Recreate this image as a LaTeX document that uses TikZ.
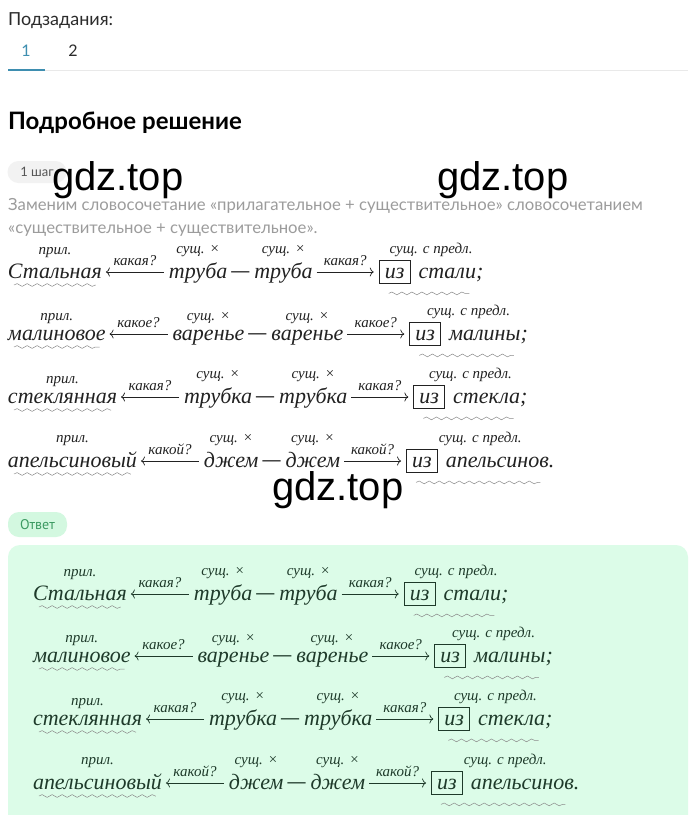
\documentclass[tikz,border=0pt]{standalone}
\usepackage{fontspec}
\setmainfont{Liberation Serif}
\newfontfamily\uifont{Lato}
\newfontfamily\markfont{Liberation Sans}
\newfontfamily\tagfont{PT Sans}
\usetikzlibrary{positioning,calc,arrows.meta,decorations.pathmorphing}

\definecolor{inkdark}{HTML}{222222}
\definecolor{inkgreen}{HTML}{1E3A2A}
\definecolor{uigray}{HTML}{9C9C9C}
\definecolor{uitext}{HTML}{2B2B2B}
\definecolor{tabblue}{HTML}{3E8EB0}
\definecolor{rulegray}{HTML}{E9E9E9}
\definecolor{pillgray}{HTML}{F2F2F2}
\definecolor{answerbg}{HTML}{DCFCE8}
\definecolor{answertag}{HTML}{D3F8E0}
\definecolor{answertext}{HTML}{3C9A62}
\definecolor{wavegray}{HTML}{8A8A8A}

\tikzstyle{word} = [inner sep=0pt, outer sep=0pt, anchor=base west, font=\fontsize{22}{22}\selectfont\itshape]
\tikzstyle{dashsign} = [word, font=\fontsize{18}{18}\selectfont\bfseries, yshift=2pt]
\tikzstyle{lbl} = [inner sep=0pt, outer sep=0pt, font=\fontsize{15}{15}\selectfont\itshape]
\tikzstyle{prepbox} = [draw, line width=0.8pt, inner sep=0pt, minimum width=31pt, text height=18pt, text depth=5pt, anchor=base west, font=\fontsize{22}{22}\selectfont\itshape]
\tikzstyle{arr} = [line width=0.7pt, -{To[length=4pt,width=9pt]}]
\tikzstyle{wave} = [draw=wavegray, line width=0.5pt, decorate, decoration={snake, amplitude=1.4pt, segment length=10pt}]
\tikzstyle{ui} = [inner sep=0pt, anchor=base west, text=uitext]
\tikzstyle{pill} = [inner sep=0pt, minimum width=59pt, rounded corners=11pt]
\tikzstyle{watermark} = [inner sep=0pt, anchor=base west, font=\markfont\fontsize{40}{40}\selectfont]

% #1 row, #2 x, #3 baseline, #4 adjective, #5 question, #6 noun, #7 noun after the preposition
\newcommand{\phraserow}[7]{
    \node[word] (#1adj) at (#2,#3) {#4};
    \node[word, base right=67pt of #1adj] (#1noun) {#6};
    \node[dashsign, base right=4pt of #1noun] (#1dash) {—};
    \node[word, base right=5pt of #1dash, yshift=-2pt] (#1nounb) {#6};
    \node[prepbox, base right=66pt of #1nounb] (#1box) {из};
    \node[word, base right=8pt of #1box] (#1prep) {#7};

    \node[lbl, above=6pt of #1adj] {прил.};
    \node[lbl, above=6pt of #1noun] {сущ.\hspace{5pt}×};
    \node[lbl, above=6pt of #1nounb] {сущ.\hspace{5pt}×};
    \coordinate (#1mid) at ($(#1box.north west)!0.5!(#1box.north west -| #1prep.east)$);
    \node[lbl, above=3pt of #1mid] {сущ. с предл.};

    \draw[arr] ([shift={(-5pt,6pt)}]#1noun.base west) -- ([shift={(4pt,6pt)}]#1adj.base east)
        node[lbl, midway, above=6pt] {#5};
    \draw[arr] ([shift={(4pt,6pt)}]#1nounb.base east) -- ([shift={(-5pt,6pt)}]#1box.base west)
        node[lbl, midway, above=6pt] {#5};

    \draw[wave] ([shift={(6pt,-7pt)}]#1adj.base west) -- ([shift={(-6pt,-7pt)}]#1adj.base east);
    \coordinate (#1wend) at (#1box.south west -| #1prep.east);
    \draw[wave] ([shift={(10pt,-10pt)}]#1box.south west) -- ([shift={(-14pt,-10pt)}]#1wend);
}

\begin{document}
\begin{tikzpicture}[x=1pt, y=-1pt]
    \useasboundingbox (0,0) rectangle (700,815);
    \fill[white] (0,0) rectangle (700,815);

    % header and tabs
    \node[ui, font=\uifont\fontsize{18}{18}\selectfont] (subtasks) at (8,25) {Подзадания:};
    \node[ui, anchor=base, text=tabblue, font=\uifont\fontsize{16}{16}\selectfont] (tabone) at (26,56) {1};
    \node[ui, anchor=base, font=\uifont\fontsize{16}{16}\selectfont] (tabtwo) at (73,56) {2};
    \draw[rulegray, line width=1pt] (8,70) -- (688,70);
    \draw[tabblue, line width=2pt] (8,70) -- (45,70);

    \node[ui, text=black, font=\uifont\bfseries\fontsize{24}{24}\selectfont] (title) at (8,129) {Подробное решение};
    \node[pill, fill=pillgray, minimum height=22pt, text=uitext!80, font=\uifont\fontsize{13}{13}\selectfont] (stepbadge) at (37,172) {1 шаг};

    \node[ui, text=uigray, font=\uifont\fontsize{16.7}{16.7}\selectfont] (intro) at (8,210) {Заменим словосочетание «прилагательное + существительное» словосочетанием};
    \node[ui, text=uigray, font=\uifont\fontsize{16.7}{16.7}\selectfont] (introb) at (8,233) {«существительное + существительное».};

    % solution
    \begin{scope}[color=inkdark]
        \phraserow{sa}{8}{278}{Стальная}{какая?}{труба}{стали;}
        \phraserow{sb}{8}{340}{малиновое}{какое?}{варенье}{малины;}
        \phraserow{sc}{8}{403}{стеклянная}{какая?}{трубка}{стекла;}
        \phraserow{sd}{8}{467}{апельсиновый}{какой?}{джем}{апельсинов.}
    \end{scope}

    % answer
    \node[pill, fill=answertag, minimum height=25pt, text=answertext, font=\tagfont\fontsize{14}{14}\selectfont] (answertag) at (37.5,524.5) {Ответ};
    \fill[answerbg, rounded corners=12pt] (8,545) rectangle (688,840);
    \begin{scope}[color=inkgreen]
        \phraserow{oa}{33}{600}{Стальная}{какая?}{труба}{стали;}
        \phraserow{ob}{33}{662}{малиновое}{какое?}{варенье}{малины;}
        \phraserow{oc}{33}{725}{стеклянная}{какая?}{трубка}{стекла;}
        \phraserow{od}{33}{789}{апельсиновый}{какой?}{джем}{апельсинов.}
    \end{scope}

    \node[watermark] (marka) at (52,190) {gdz.top};
    \node[watermark] (markb) at (437,190) {gdz.top};
    \node[watermark] (markc) at (272,500) {gdz.top};
\end{tikzpicture}
\end{document}
